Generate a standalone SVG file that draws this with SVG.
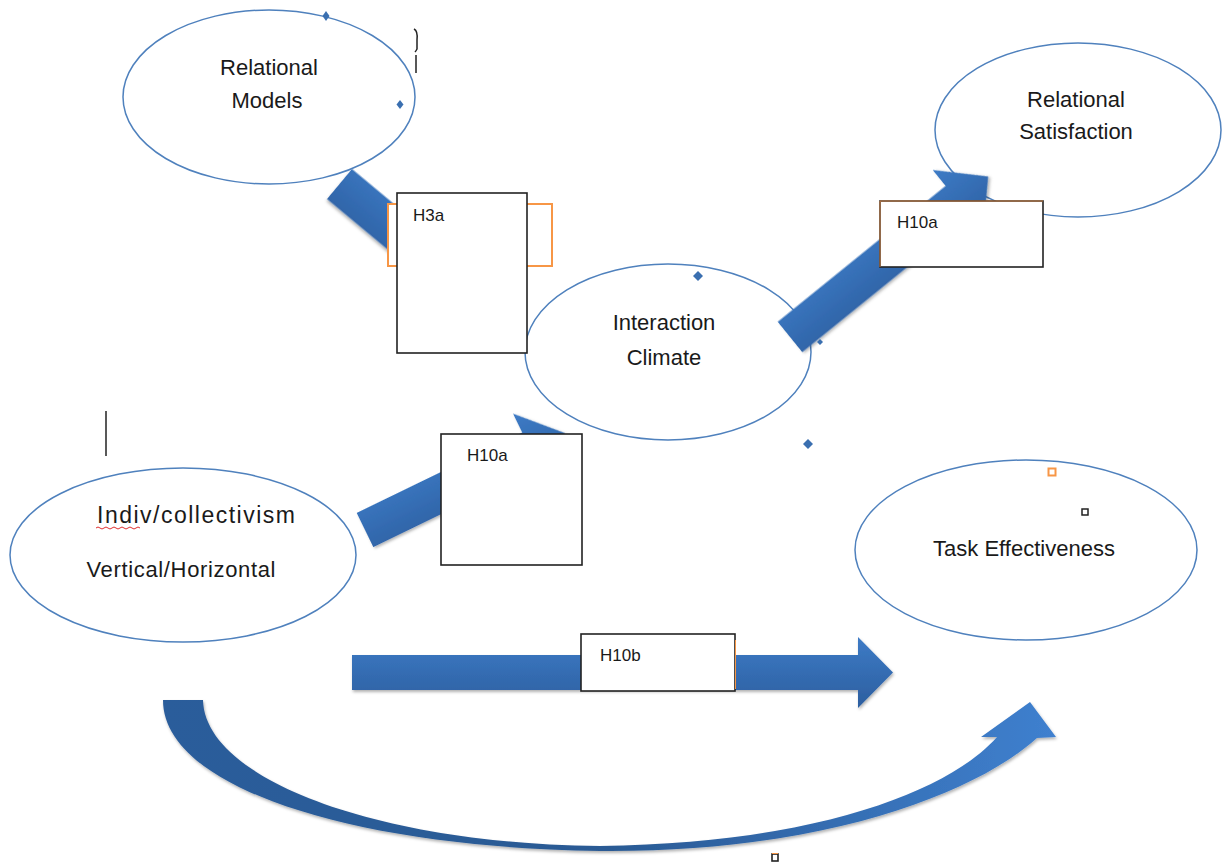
<svg xmlns="http://www.w3.org/2000/svg" width="1223" height="865" viewBox="0 0 1223 865">
<defs>
<linearGradient id="gArrow" x1="0" y1="0" x2="0" y2="1">
<stop offset="0" stop-color="#3d7bc6"/>
<stop offset="1" stop-color="#2c5e9f"/>
</linearGradient>
<linearGradient id="gCurve" x1="0" y1="0" x2="1" y2="0">
<stop offset="0" stop-color="#2c5d9b"/>
<stop offset="0.5" stop-color="#2a5a94"/>
<stop offset="1" stop-color="#3f80cf"/>
</linearGradient>
<filter id="shadow" x="-10%" y="-10%" width="120%" height="130%">
<feDropShadow dx="1" dy="2" stdDeviation="1.5" flood-color="#000" flood-opacity="0.3"/>
</filter>
<style>
.node{fill:#fff;stroke:#4f81bd;stroke-width:1.5}
.lbl{font-family:"Liberation Sans",Arial,sans-serif;font-size:22px;fill:#1a1a1a;text-anchor:middle}
.hl{font-family:"Liberation Sans",Arial,sans-serif;font-size:17px;fill:#1a1a1a}
.box{fill:#fff;stroke:#222;stroke-width:1.6}
.obox{fill:#fff;stroke:#f79646;stroke-width:2}
.arr{fill:url(#gArrow);filter:url(#shadow)}
.mk{fill:#3a6fb0}
</style>
</defs>
<rect width="1223" height="865" fill="#fff"/>

<g id="node-relational-models">
<ellipse class="node" cx="269" cy="97" rx="146" ry="87"/>
<text class="lbl" x="269" y="75">Relational</text>
<text class="lbl" x="267" y="108">Models</text>
</g>
<g id="node-relational-satisfaction">
<ellipse class="node" cx="1078" cy="130" rx="143" ry="87"/>
<text class="lbl" x="1076" y="107">Relational</text>
<text class="lbl" x="1076" y="139">Satisfaction</text>
</g>
<g id="node-interaction-climate">
<ellipse class="node" cx="668" cy="352" rx="143" ry="88"/>
<text class="lbl" x="664" y="330">Interaction</text>
<text class="lbl" x="664" y="365">Climate</text>
</g>
<g id="node-indiv-collectivism">
<ellipse class="node" cx="183" cy="555" rx="173" ry="87"/>
<text class="lbl" x="196" y="523" style="font-size:23px" textLength="198" lengthAdjust="spacing">Indiv/collectivism</text>
<path d="M96,528 q2,-2 4,0 t4,0 t4,0 t4,0 t4,0 t4,0 t4,0 t4,0 t4,0 t4,0 t4,0" fill="none" stroke="#e03030" stroke-width="1"/>
<text class="lbl" x="181" y="577" textLength="189" lengthAdjust="spacing">Vertical/Horizontal</text>
</g>
<g id="node-task-effectiveness">
<ellipse class="node" cx="1026" cy="550" rx="171" ry="90"/>
<text class="lbl" x="1024" y="556" textLength="182" lengthAdjust="spacing">Task Effectiveness</text>
</g>

<g id="connectors">
<polygon class="arr" transform="translate(339.5,184) rotate(39.8)" points="0,-19.5 161,-19.5 161,-40 200,0 161,40 161,19.5 0,19.5"/>
<polygon class="arr" transform="translate(790,337) rotate(-39)" points="0,-19.5 216,-19.5 216,-40 255,0 216,40 216,19.5 0,19.5"/>
<polygon class="arr" transform="translate(365,530) rotate(-25.9)" points="0,-19 184,-19 184,-40 222,0 184,40 184,19 0,19"/>
<polygon class="arr" points="352,655 858,655 858,637 893,672.5 858,708 858,690 352,690"/>
<path fill="url(#gCurve)" filter="url(#shadow)" d="M163,700 C163,790 360,848 600,851 C830,853 980,790 1037,738 L1056,737 L1030,702 L981,737 L997,737 C950,790 820,843 600,846 C380,844 205,780 203,700 Z"/>
</g>

<g id="label-h3a">
<rect class="obox" x="388" y="204" width="164" height="62"/>
<rect class="box" x="397" y="193" width="130" height="160"/>
<text class="hl" x="413" y="221">H3a</text>
</g>
<g id="label-h10a-top">
<rect class="box" x="880" y="201" width="163" height="66"/>
<path d="M880,267 L880,201 L1043,201" fill="none" stroke="#f79646" stroke-width="0.8"/>
<text class="hl" x="897" y="228">H10a</text>
</g>
<g id="label-h10a-bottom">
<rect class="box" x="441" y="434" width="141" height="131"/>
<text class="hl" x="467" y="461">H10a</text>
</g>
<g id="label-h10b">
<rect class="box" x="581" y="634" width="154" height="57"/>
<line x1="735.5" y1="640" x2="735.5" y2="689" stroke="#f79646" stroke-width="1"/>
<text class="hl" x="600" y="661">H10b</text>
</g>

<g id="marks">
<path class="mk" d="M326,11 l3.5,5 l-3.5,5 l-3.5,-5 z"/>
<path class="mk" d="M400,100 l3.5,4.5 l-3.5,4.5 l-3.5,-4.5 z"/>
<path class="mk" d="M698,271 l5,5 l-5,5 l-5,-5 z"/>
<path class="mk" d="M808,439 l5,5 l-5,5 l-5,-5 z"/>
<path class="mk" d="M820,339 l3,3 l-3,3 l-3,-3 z"/>
<path d="M414,29 Q418,31 417,40 L417,49 Q416,51 415,52 M416,55 L416,73" fill="none" stroke="#222" stroke-width="1.5"/>
<line x1="106" y1="411" x2="106" y2="456" stroke="#222" stroke-width="1.5"/>
<rect x="1048.5" y="468.5" width="7" height="7" fill="#fff" stroke="#f79646" stroke-width="2"/>
<rect x="1082" y="509" width="6" height="6" fill="#fff" stroke="#222" stroke-width="1.5"/>
<rect x="772" y="854" width="6" height="7" fill="#fff" stroke="#222" stroke-width="1.6"/>
<line x1="772" y1="853.5" x2="778" y2="853.5" stroke="#f79646" stroke-width="1"/>
</g>
</svg>
